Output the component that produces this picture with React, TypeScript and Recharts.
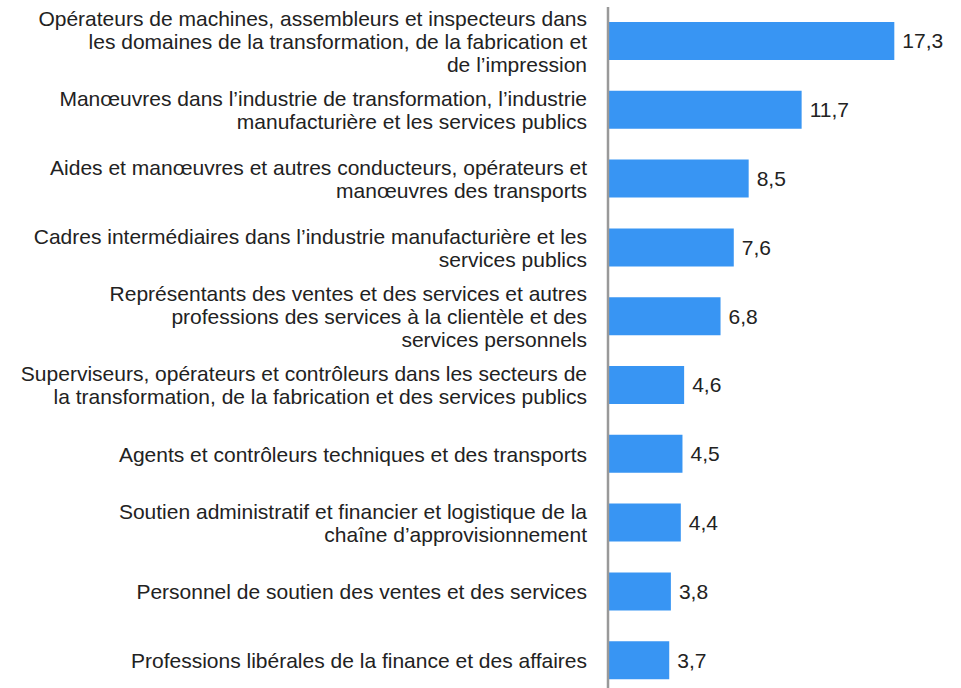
import React from "react";
import { BarChart, Bar, XAxis, YAxis, LabelList } from "recharts";

const categories: string[] = [
  "Opérateurs de machines, assembleurs et inspecteurs dans\nles domaines de la transformation, de la fabrication et\nde l’impression",
  "Manœuvres dans l’industrie de transformation, l’industrie\nmanufacturière et les services publics",
  "Aides et manœuvres et autres conducteurs, opérateurs et\nmanœuvres des transports",
  "Cadres intermédiaires dans l’industrie manufacturière et les\nservices publics",
  "Représentants des ventes et des services et autres\nprofessions des services à la clientèle et des\nservices personnels",
  "Superviseurs, opérateurs et contrôleurs dans les secteurs de\nla transformation, de la fabrication et des services publics",
  "Agents et contrôleurs techniques et des transports",
  "Soutien administratif et financier et logistique de la\nchaîne d’approvisionnement",
  "Personnel de soutien des ventes et des services",
  "Professions libérales de la finance et des affaires",
];

const values: number[] = [17.3, 11.7, 8.5, 7.6, 6.8, 4.6, 4.5, 4.4, 3.8, 3.7];

const data = categories.map((c, i) => ({ name: c, value: values[i] }));

const FONT = "'Liberation Sans', Arial, sans-serif";

const Tick = (props: any) => {
  const { x, y, payload } = props;
  const lines: string[] = String(payload.value).split("\n");
  const lh = 23;
  return (
    <g>
      {lines.map((l, i) => (
        <text
          key={i}
          x={x}
          y={y + (i - (lines.length - 1) / 2) * lh}
          dy="0.35em"
          textAnchor="end"
          fill="#222"
          fontSize={21}
          fontFamily={FONT}
        >
          {l}
        </text>
      ))}
    </g>
  );
};

export default function App() {
  return (
    <div style={{ position: "absolute", left: 0, top: 0 }}>
      <BarChart
        width={961}
        height={702}
        data={data}
        layout="vertical"
        margin={{ top: 7, right: 22, bottom: 7, left: 0 }}
        barCategoryGap={0}
      >
        <XAxis type="number" domain={[0, 20]} hide />
        <YAxis
          type="category"
          dataKey="name"
          width={608}
          tick={<Tick />}
          tickLine={false}
          tickSize={6}
          tickMargin={15}
          axisLine={{ stroke: "#999", strokeWidth: 2.5 }}
          interval={0}
        />
        <Bar dataKey="value" fill="#3895f3" barSize={38} isAnimationActive={false}>
          <LabelList
            dataKey="value"
            position="right"
            offset={8}
            formatter={(v: any) => String(v).replace(".", ",")}
            fill="#222"
            fontSize={21}
            fontFamily={FONT}
          />
        </Bar>
      </BarChart>
    </div>
  );
}
